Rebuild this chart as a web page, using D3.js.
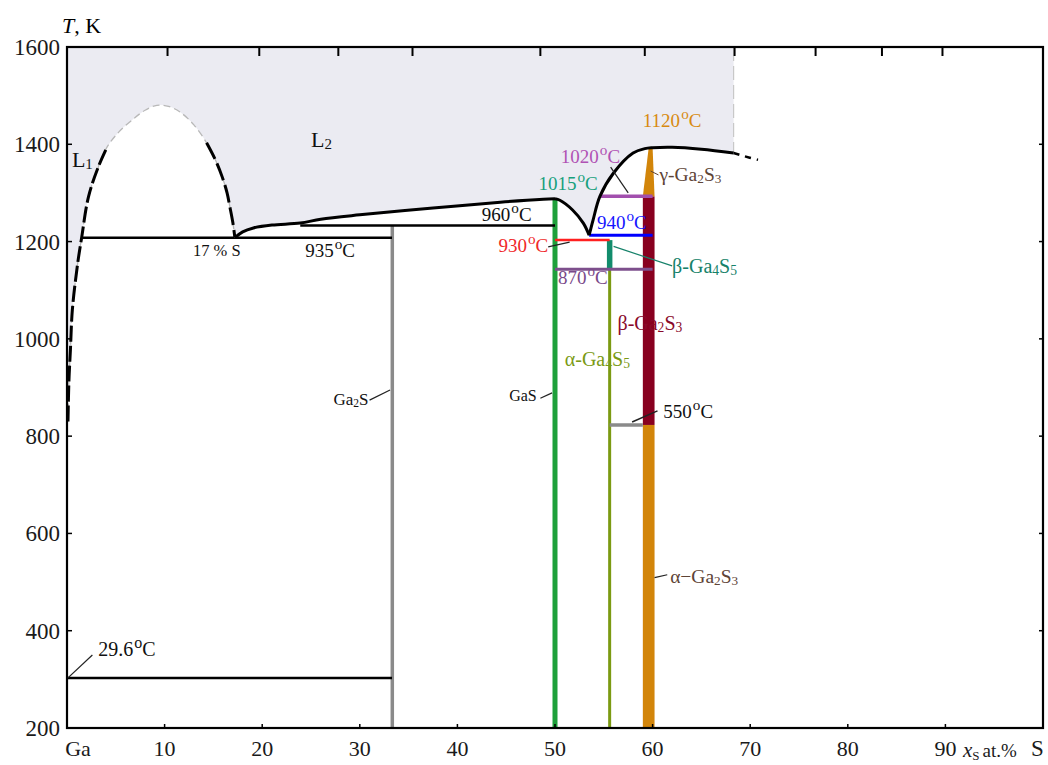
<!DOCTYPE html>
<html>
<head>
<meta charset="utf-8">
<script src="https://cdn.jsdelivr.net/npm/d3@7"></script>
<style>
  body { margin: 0; background: #fff; }
  text { font-family: "Liberation Serif", "Times New Roman", serif; }
</style>
</head>
<body>
<svg id="chart" width="1048" height="765"></svg>
<script>
// ---- Ga–S phase diagram: composition in at.% S, temperature in K ----

const tempTicks = [200, 400, 600, 800, 1000, 1200, 1400, 1600];
const compTicks = [0, 10, 20, 30, 40, 50, 60, 70, 80, 90];
const compTickLabels = ["Ga", "10", "20", "30", "40", "50", "60", "70", "80", "90"];
const topTicks = [10.3, 19.7, 27.8, 35.4, 48.5, 59.2, 68.4, 76.7, 83.5, 89.7];

// Liquid miscibility gap (L1 + L2) including the Ga-rich L1 liquidus
const domeCurve = [
  [0.1, 830], [0.2, 915], [0.35, 977], [0.55, 1060], [1.1, 1156], [1.5, 1208],
  [2.2, 1292], [3.2, 1353], [4.1, 1394], [5.3, 1425], [6.8, 1452], [8.0, 1470],
  [9.2, 1480], [10.4, 1478], [11.6, 1466], [13.0, 1440], [14.3, 1403],
  [15.2, 1368], [15.9, 1333], [16.4, 1300], [16.7, 1270], [17.0, 1238], [17.2, 1208]
];
const domeSolidLeftEnd = 8;    // index where the lower-left branch ends
const domeSolidRightStart = 16; // index where the lower-right branch starts

// L2 liquidus, split at the GaS maximum and at the 940 °C eutectic
const liquidusToGaS = [
  [17.2, 1208], [18.0, 1220], [19.1, 1228], [21.0, 1234], [23.9, 1238], [26.0, 1246],
  [30.0, 1255], [37.5, 1269], [44.4, 1281], [48.8, 1287], [50.0, 1288]
];
const liquidusToEutectic = [
  [50.0, 1288], [50.5, 1285], [51.8, 1265], [52.9, 1238], [53.5, 1213]
];
const liquidusToGa2S3 = [
  [53.5, 1213], [53.9, 1244], [54.6, 1293], [56.0, 1341], [58.0, 1382], [59.2, 1391],
  [60.0, 1393], [62.0, 1394], [65.0, 1390], [68.3, 1382]
];
const liquidusTail = [[68.3, 1382], [69.3, 1376], [70.8, 1368]];
const shadedRightEdge = 68.3;

// Invariant (horizontal) lines, temperatures in °C
const invariantNames = ["t29", "t935", "t960", "t930", "t940", "t870", "t1020", "t550"];
const invariantTempC = [29.6, 935, 960, 930, 940, 870, 1020, 550];
const invariantFrom = [0, 1.5, 23.9, 50, 53.5, 50, 54.6, 55.6];
const invariantTo = [33.3, 33.3, 50, 55.6, 60, 60, 60, 59.0];

// Line compounds (vertical lines), temperatures in K
const phaseNames = ["Ga2S", "GaS", "aGa4S5", "bGa4S5"];
const phaseX = [33.33, 50.0, 55.6, 55.6];
const phaseLowK = [200, 200, 200, 1143];
const phaseHighK = [1233, 1288, 1143, 1203];

// Ga2S3 homogeneity range and its polymorphs
const ga2s3Min = 59.0, ga2s3Max = 60.2;
const ga2s3Names = ["alpha", "beta"];
const ga2s3LowK = [200, 823];
const ga2s3HighK = [823, 1293];
const gammaGa2S3 = [[59.0, 1293], [60.2, 1293], [60.0, 1393], [59.6, 1393]];

const C2K = 273;

// ---- styles ----
const invStyle = {
  t29: { c: "#000", w: 2.5 }, t935: { c: "#000", w: 2.5 }, t960: { c: "#000", w: 2.5 },
  t930: { c: "#ff2020", w: 2.5 }, t940: { c: "#0000ff", w: 3 }, t870: { c: "#7d4f8c", w: 3 },
  t1020: { c: "#a24fae", w: 3.5 }, t550: { c: "#8a8a8a", w: 3.5 }
};
const phaseStyle = {
  Ga2S: { c: "#8a8a8a", w: 3.5 }, GaS: { c: "#1ea03a", w: 5 },
  aGa4S5: { c: "#7b9a12", w: 3 }, bGa4S5: { c: "#128c6c", w: 5.5 }
};
const ga2s3Color = { alpha: "#d2850a", beta: "#88001f" };

const svg = d3.select("#chart");
const plotLeft = 67, plotRight = 1043, plotTop = 47, plotBottom = 728;

const x = d3.scaleLinear().domain([0, 100]).range([plotLeft, plotRight]);
const y = d3.scaleLinear().domain([200, 1600]).range([plotBottom, plotTop]);

const curve = d3.curveCatmullRom.alpha(0.5);
const line = d3.line().x(d => x(d[0])).y(d => y(d[1])).curve(curve);

// ---- shaded liquid field ----
function appendReversed(path, pts) {
  return path + line(pts.slice().reverse()).replace(/^M/, "L");
}
let fillPath = `M${x(0)},${y(1600)}L${x(shadedRightEdge)},${y(1600)}L${x(shadedRightEdge)},${y(liquidusToGa2S3[liquidusToGa2S3.length - 1][1])}`;
fillPath = appendReversed(fillPath, liquidusToGa2S3);
fillPath = appendReversed(fillPath, liquidusToEutectic);
fillPath = appendReversed(fillPath, liquidusToGaS);
fillPath = appendReversed(fillPath, domeCurve);
fillPath += `L${x(0)},${y(domeCurve[0][1])}Z`;
svg.append("path").attr("d", fillPath).attr("fill", "#ebebf2");

svg.append("line")
  .attr("x1", x(shadedRightEdge)).attr("x2", x(shadedRightEdge))
  .attr("y1", y(1600)).attr("y2", y(1382))
  .attr("stroke", "#c8c8c8").attr("stroke-width", 1.2).attr("stroke-dasharray", "14,5");

// ---- vertical compound lines ----
svg.append("g").selectAll("line").data(phaseNames).join("line")
  .attr("x1", (d, i) => x(phaseX[i])).attr("x2", (d, i) => x(phaseX[i]))
  .attr("y1", (d, i) => y(phaseLowK[i])).attr("y2", (d, i) => y(phaseHighK[i]))
  .attr("stroke", d => phaseStyle[d].c).attr("stroke-width", d => phaseStyle[d].w);

// Ga2S3 bars
svg.append("g").selectAll("rect").data(ga2s3Names).join("rect")
  .attr("x", x(ga2s3Min)).attr("width", x(ga2s3Max) - x(ga2s3Min))
  .attr("y", (d, i) => y(ga2s3HighK[i]))
  .attr("height", (d, i) => y(ga2s3LowK[i]) - y(ga2s3HighK[i]))
  .attr("fill", d => ga2s3Color[d]);
svg.append("path")
  .attr("d", d3.line().x(d => x(d[0])).y(d => y(d[1]))(gammaGa2S3) + "Z")
  .attr("fill", ga2s3Color.alpha);

// ---- invariant horizontal lines ----
svg.append("g").selectAll("line").data(invariantNames).join("line")
  .attr("x1", (d, i) => x(invariantFrom[i])).attr("x2", (d, i) => x(invariantTo[i]))
  .attr("y1", (d, i) => y(invariantTempC[i] + C2K)).attr("y2", (d, i) => y(invariantTempC[i] + C2K))
  .attr("stroke", d => invStyle[d].c).attr("stroke-width", d => invStyle[d].w);

// ---- liquidus curves ----
svg.append("path").attr("d", line(domeCurve)).attr("fill", "none")
  .attr("stroke", "#b8b8b8").attr("stroke-width", 1.3).attr("stroke-dasharray", "7,4");
svg.append("path").attr("d", line(domeCurve.slice(0, domeSolidLeftEnd + 1))).attr("fill", "none")
  .attr("stroke", "#000").attr("stroke-width", 3).attr("stroke-dasharray", "16,4");
svg.append("path").attr("d", line(domeCurve.slice(domeSolidRightStart))).attr("fill", "none")
  .attr("stroke", "#000").attr("stroke-width", 3).attr("stroke-dasharray", "18,5");

[liquidusToGaS, liquidusToEutectic, liquidusToGa2S3].forEach(seg => {
  svg.append("path").attr("d", line(seg)).attr("fill", "none")
    .attr("stroke", "#000").attr("stroke-width", 3);
});
svg.append("path").attr("d", line(liquidusTail)).attr("fill", "none")
  .attr("stroke", "#000").attr("stroke-width", 2.5).attr("stroke-dasharray", "6,6");

// ---- frame and ticks ----
svg.append("rect").attr("x", plotLeft).attr("y", plotTop)
  .attr("width", plotRight - plotLeft).attr("height", plotBottom - plotTop)
  .attr("fill", "none").attr("stroke", "#000").attr("stroke-width", 2.2);

const tickG = svg.append("g").attr("stroke", "#000");
topTicks.forEach(t => tickG.append("line")
  .attr("x1", x(t)).attr("x2", x(t)).attr("y1", plotTop).attr("y2", plotTop + 9).attr("stroke-width", 2));
compTicks.slice(1).forEach(t => tickG.append("line")
  .attr("x1", x(t)).attr("x2", x(t)).attr("y1", plotBottom).attr("y2", plotBottom - 4).attr("stroke-width", 1.5));
tempTicks.slice(1, -1).forEach(t => {
  tickG.append("line").attr("x1", plotLeft).attr("x2", plotLeft + 5)
    .attr("y1", y(t)).attr("y2", y(t)).attr("stroke-width", 1.5);
  tickG.append("line").attr("x1", plotRight).attr("x2", plotRight - 4)
    .attr("y1", y(t)).attr("y2", y(t)).attr("stroke-width", 1.5);
});

// tick labels
svg.append("g").selectAll("text").data(tempTicks).join("text")
  .attr("x", plotLeft - 7).attr("y", d => y(d) + 8)
  .attr("text-anchor", "end").attr("font-size", 23).attr("fill", "#1a1a1a")
  .text(d => d);
svg.append("g").selectAll("text").data(compTicks).join("text")
  .attr("x", (d, i) => x(d) + (i === 0 ? 11 : 0)).attr("y", 756)
  .attr("text-anchor", "middle").attr("font-size", 22).attr("fill", "#1a1a1a")
  .text((d, i) => compTickLabels[i]);

// axis titles
const tTitle = svg.append("text").attr("x", 62).attr("y", 33).attr("font-size", 22);
tTitle.append("tspan").attr("font-style", "italic").text("T");
tTitle.append("tspan").text(", K");

const xTitle = svg.append("text").attr("x", 963).attr("y", 757).attr("font-size", 21).attr("fill", "#1a1a1a");
xTitle.append("tspan").attr("font-style", "italic").text("x");
xTitle.append("tspan").attr("font-size", 13).attr("dy", 3).text("S");
xTitle.append("tspan").attr("dy", -3).attr("dx", 3).attr("font-size", 19).text("at.%");
svg.append("text").attr("x", 1031).attr("y", 756).attr("font-size", 23).attr("fill", "#1a1a1a").text("S");

// ---- annotations ----
function degLabel(px, py, value, color, size) {
  const t = svg.append("text").attr("x", x(px)).attr("y", y(py))
    .attr("font-size", size).attr("fill", color);
  t.append("tspan").text(value);
  t.append("tspan").attr("font-size", size * 0.8).attr("dy", -size * 0.42).attr("dx", 1).text("o");
  t.append("tspan").attr("dy", size * 0.42).text("C");
}
function formulaLabel(px, py, parts, color, size) {
  // parts: array of [text, isSubscript]
  const t = svg.append("text").attr("x", x(px)).attr("y", y(py))
    .attr("font-size", size).attr("fill", color);
  let shifted = false;
  parts.forEach(([s, sub]) => {
    const ts = t.append("tspan").text(s);
    if (sub && !shifted) { ts.attr("font-size", size * 0.68).attr("dy", 2); shifted = true; }
    else if (!sub && shifted) { ts.attr("dy", -2); shifted = false; }
    else if (sub) ts.attr("font-size", size * 0.68);
  });
}
function leader(p0, p1, color, w) {
  svg.append("line").attr("x1", x(p0[0])).attr("y1", y(p0[1]))
    .attr("x2", x(p1[0])).attr("y2", y(p1[1]))
    .attr("stroke", color).attr("stroke-width", w || 1.2);
}

formulaLabel(0.5, 1353, [["L", false], ["1", true]], "#111", 22);
formulaLabel(25.0, 1394, [["L", false], ["2", true]], "#111", 22);
svg.append("text").attr("x", x(12.9)).attr("y", y(1170)).attr("font-size", 16.5).attr("fill", "#111").text("17 % S");

degLabel(24.4, 1168, "935", "#111", 19);
degLabel(42.5, 1242, "960", "#111", 19);
degLabel(48.3, 1306, "1015", "#17a07c", 19);
degLabel(50.6, 1362, "1020", "#b052b4", 19);
degLabel(59.0, 1436, "1120", "#d88a10", 19);
degLabel(54.3, 1226, "940", "#1515ff", 19);
degLabel(44.2, 1179, "930", "#f02828", 19);
degLabel(50.3, 1112, "870", "#7a4a8a", 19);
degLabel(61.1, 837, "550", "#111", 19);
degLabel(3.2, 348, "29.6", "#111", 20);

formulaLabel(60.7, 1325, [["γ-Ga", false], ["2", true], ["S", false], ["3", true]], "#5e4436", 19.5);
formulaLabel(62.0, 1136, [["β-Ga", false], ["4", true], ["S", false], ["5", true]], "#16826a", 20);
formulaLabel(56.4, 1018, [["β-Ga", false], ["2", true], ["S", false], ["3", true]], "#8a0a2a", 20);
formulaLabel(51.0, 944, [["α-Ga", false], ["4", true], ["S", false], ["5", true]], "#7a9a14", 20);
formulaLabel(61.8, 498, [["α−Ga", false], ["2", true], ["S", false], ["3", true]], "#5e4436", 19.5);
formulaLabel(27.3, 864, [["Ga", false], ["2", true], ["S", false]], "#111", 17);
svg.append("text").attr("x", x(45.3)).attr("y", y(872)).attr("font-size", 16).attr("fill", "#111").text("GaS");

leader([55.7, 1353], [57.5, 1300], "#222", 1.2);
leader([59.8, 1345], [60.6, 1337], "#5e4436", 1);
leader([49.3, 1189], [51.5, 1199], "#222", 1.2);
leader([56.0, 1190], [62.0, 1150], "#16826a", 1.2);
leader([48.5, 878], [49.7, 889], "#222", 1.2);
leader([31.0, 874], [33.1, 895], "#222", 1.2);
leader([57.9, 829], [60.5, 852], "#222", 1.5);
leader([60.2, 509], [61.5, 515], "#222", 1.2);
leader([0.1, 303], [2.6, 350], "#222", 1.2);
</script>
</body>
</html>
